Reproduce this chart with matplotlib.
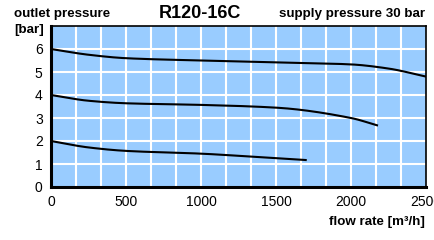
import matplotlib
matplotlib.use("Agg")
import matplotlib.pyplot as plt
import numpy as np

plt.rcParams['font.family'] = ['Liberation Sans', 'DejaVu Sans']

flow_top = [0, 250, 500, 1000, 1500, 2000, 2250, 2500]
p_top = [6.0, 5.75, 5.6, 5.5, 5.42, 5.33, 5.15, 4.8]
flow_mid = [0, 250, 500, 1000, 1500, 2000, 2180]
p_mid = [4.0, 3.75, 3.64, 3.57, 3.45, 3.0, 2.67]
flow_low = [0, 250, 500, 1000, 1500, 1705]
p_low = [2.0, 1.72, 1.57, 1.45, 1.25, 1.17]
xticks = [0, 500, 1000, 1500, 2000, 2500]
yticks = [0, 1, 2, 3, 4, 5, 6]

fig = plt.figure(figsize=(4.34, 2.40), dpi=100)
ax = fig.add_axes([51/434, 1-187/240, 375/434, 161/240])
ax.set_facecolor('#99ccff')
ax.set_xlim(0, 2500)
ax.set_ylim(0, 7)
for x in np.arange(1, 15) * 2500 / 15:
    ax.axvline(x, color='white', lw=1.5, zorder=1)
for y in range(1, 7):
    ax.axhline(y, color='white', lw=1.5, zorder=1)

def smooth(xs, ys):
    xx = np.linspace(xs[0], xs[-1], 200)
    xs = np.asarray(xs, float); ys = np.asarray(ys, float)
    h = np.diff(xs); d = np.diff(ys) / h
    m = np.zeros_like(ys)
    m[0] = d[0]; m[-1] = d[-1]
    for i in range(1, len(xs) - 1):
        if d[i-1] * d[i] <= 0:
            m[i] = 0
        else:
            w1 = 2*h[i] + h[i-1]; w2 = h[i] + 2*h[i-1]
            m[i] = (w1 + w2) / (w1/d[i-1] + w2/d[i])
    yy = np.empty_like(xx)
    for j, x in enumerate(xx):
        i = min(np.searchsorted(xs, x, side='right') - 1, len(xs) - 2)
        t = (x - xs[i]) / h[i]
        h00 = 2*t**3 - 3*t**2 + 1; h10 = t**3 - 2*t**2 + t
        h01 = -2*t**3 + 3*t**2; h11 = t**3 - t**2
        yy[j] = h00*ys[i] + h10*h[i]*m[i] + h01*ys[i+1] + h11*h[i]*m[i+1]
    return xx, yy

for fx, py in [(flow_top, p_top), (flow_mid, p_mid), (flow_low, p_low)]:
    xx, yy = smooth(fx, py)
    ax.plot(xx, yy, color='black', lw=1.5, zorder=3, solid_capstyle='butt')

ax.set_xticks(xticks)
ax.set_yticks(yticks)
ax.tick_params(length=0, labelsize=10, pad=6)
for s in ['left', 'bottom']:
    ax.spines[s].set_linewidth(2.2)
for s in ['top', 'right']:
    ax.spines[s].set_linewidth(1.2)

fig.text(14/434, 1-14/240, 'outlet pressure', fontsize=9.6, fontweight='bold', va='center', ha='left')
fig.text(14/434, 1-30/240, '[bar]', fontsize=9.6, fontweight='bold', va='center', ha='left')
fig.text(200/434, 1-14/240, 'R120-16C', fontsize=13, fontweight='bold', va='center', ha='center')
fig.text(425/434, 1-14/240, 'supply pressure 30 bar', fontsize=9.6, fontweight='bold', va='center', ha='right')
fig.text(425/434, 1-222/240, 'flow rate [m³/h]', fontsize=9.6, fontweight='bold', va='center', ha='right')

fig.savefig('out.png', dpi=100)
